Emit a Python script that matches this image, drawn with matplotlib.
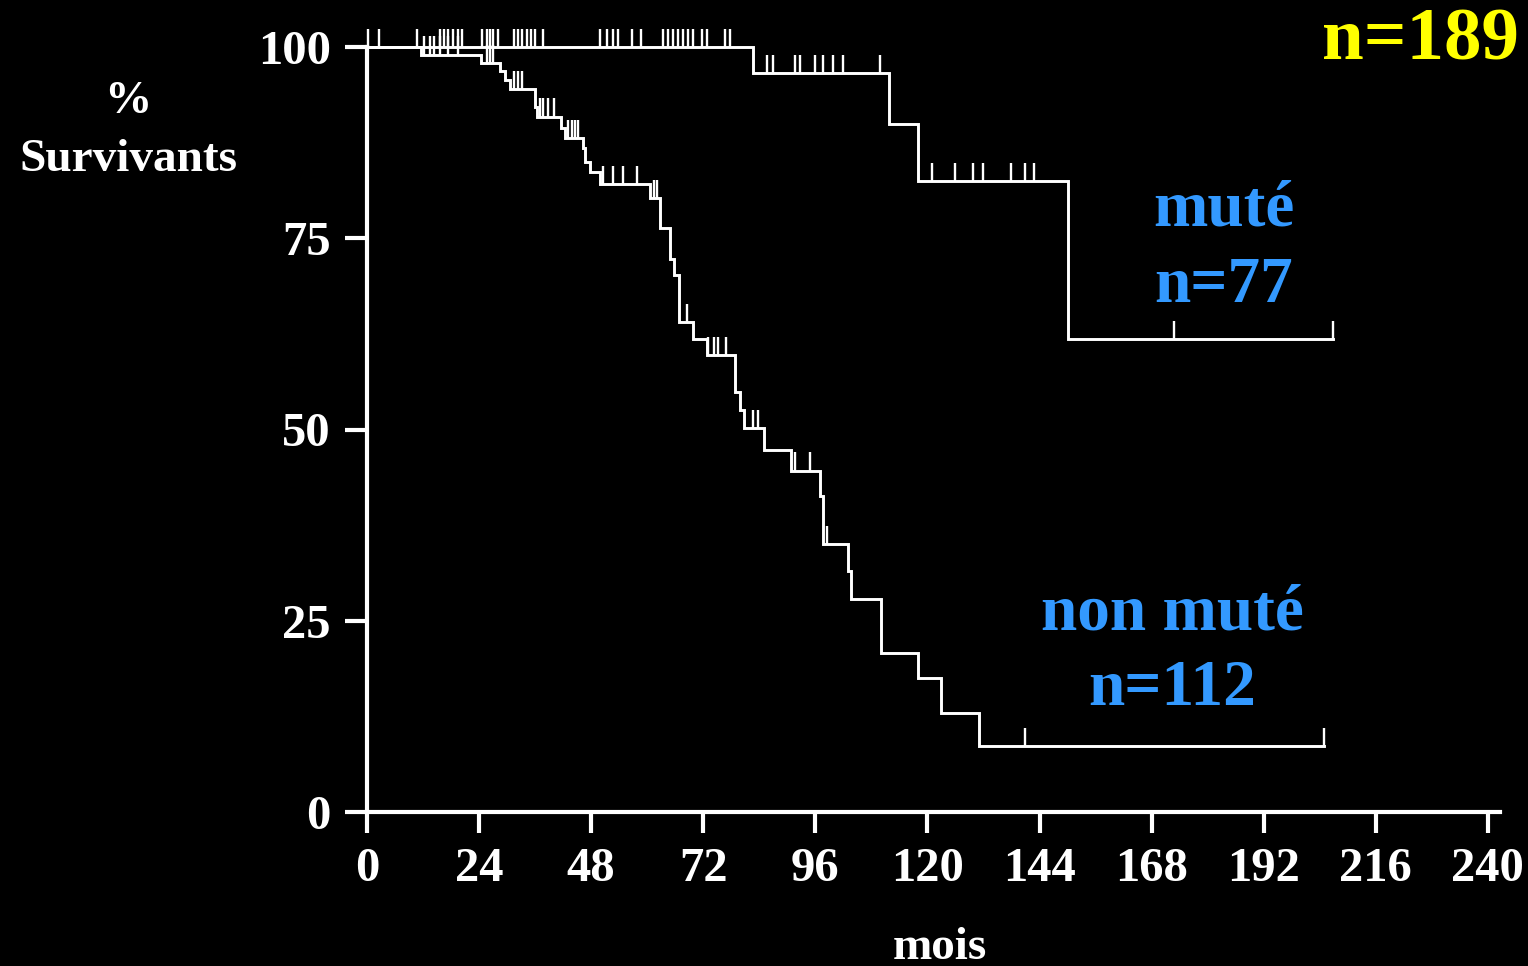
import numpy as np
import matplotlib
matplotlib.use("Agg")
import matplotlib.pyplot as plt

plt.rcParams['font.family'] = ['Liberation Serif', 'DejaVu Serif']
plt.rcParams['font.weight'] = 'bold'

# muté (n=77): event times (months) and survival (%) after each event
mut_times = [0, 82.7, 111.8, 117.9, 150.1]
mut_surv = [100, 96.6, 90.0, 82.5, 61.8]
mut_end = 206.8
mut_censor = [0.3, 2.6, 10.7, 15.6, 16.5, 17.3, 18.4, 19.5, 20.3, 24.6, 25.7,
              26.3, 27.0, 28.0, 31.5, 32.3, 33.2, 34.3, 35.1, 36.0, 37.7,
              49.9, 51.4, 52.7, 53.7, 56.7, 58.7, 63.4, 64.5, 65.5, 66.6,
              67.7, 68.7, 69.8, 71.7, 72.8, 76.7, 77.7,
              85.7, 86.9, 91.6, 92.7, 95.9, 97.7, 99.8, 101.9, 109.9,
              120.9, 125.9, 129.8, 131.8, 137.8, 140.9, 142.8, 172.8, 206.8]

# non muté (n=112)
non_times = [0, 11.5, 24.5, 28.5, 29.5, 30.6, 36.0, 36.5, 41.5, 42.5, 46.2,
             46.7, 47.7, 49.9, 60.6, 62.7, 64.9, 65.8, 66.7, 69.7, 72.7,
             78.7, 79.9, 80.8, 84.9, 90.8, 96.9, 97.7, 102.9, 103.6, 110.0,
             117.9, 122.8, 131.0]
non_surv = [100, 99.0, 97.9, 96.8, 95.7, 94.5, 92.1, 90.9, 89.4, 88.1, 86.8,
            85.0, 83.7, 82.1, 80.2, 76.3, 72.3, 70.2, 64.0, 61.8, 59.7,
            54.9, 52.5, 50.2, 47.3, 44.6, 41.3, 35.0, 31.5, 27.9, 20.8,
            17.5, 13.0, 8.6]
non_end = 204.9
non_censor = [12.2, 13.4, 14.4, 15.6, 17.3, 19.5, 25.7, 26.3, 27.0,
              31.5, 32.3, 33.2, 37.0, 37.7, 38.8, 40.0, 43.0, 43.9, 44.5, 45.2,
              50.5, 52.7, 54.8, 57.8, 61.4, 62.0, 68.6, 73.1, 74.2, 75.2, 76.8,
              82.7, 83.8, 91.6, 94.9, 98.6, 140.9, 204.9]

xticks = list(range(0, 241, 24))
yticks = [0, 25, 50, 75, 100]

W, H = 1528, 966
fig = plt.figure(figsize=(W / 100, H / 100), dpi=100, facecolor='black')
ax = fig.add_axes([367 / W, 154 / H, 1133 / W, 765 / H], facecolor='black')
ax.set_xlim(0, 242.6)
ax.set_ylim(0, 100)


def surv_at(times, surv, t):
    i = np.searchsorted(times, t, side='right') - 1
    return surv[i]


def draw_curve(times, surv, end, censor):
    xs = list(times) + [end]
    ys = list(surv) + [surv[-1]]
    ax.step(xs, ys, where='post', color='white', lw=2.1, clip_on=False,
            solid_joinstyle='miter')
    cy = [surv_at(times, surv, c) for c in censor]
    ax.vlines(censor, cy, np.array(cy) + 2.4, color='white', lw=1.7,
              clip_on=False)


draw_curve(mut_times, mut_surv, mut_end, mut_censor)
draw_curve(non_times, non_surv, non_end, non_censor)

for s in ['top', 'right']:
    ax.spines[s].set_visible(False)
for s in ['left', 'bottom']:
    ax.spines[s].set_color('white')
    ax.spines[s].set_linewidth(3)

ax.set_xticks(xticks)
ax.set_yticks(yticks)
ax.tick_params(axis='x', direction='out', length=15, width=3, colors='white',
               labelsize=35, pad=10)
ax.tick_params(axis='y', direction='out', length=16, width=3, colors='white',
               labelsize=35, pad=10)
for lab in ax.get_xticklabels() + ax.get_yticklabels():
    lab.set_fontweight('bold')

blue = '#3399ff'


def ftext(x, y, s, **kw):
    fig.text(x / W, 1 - y / H, s, ha='center', va='center', fontweight='bold', **kw)


ftext(128, 102, '%', color='white', fontsize=34)
ftext(128, 160, 'Survivants', color='white', fontsize=34)
ftext(940, 948, 'mois', color='white', fontsize=34)
ftext(1421, 42, 'n=189', color='#ffff00', fontsize=54)
ftext(1224, 210, 'muté', color=blue, fontsize=47)
ftext(1224, 286, 'n=77', color=blue, fontsize=47)
ftext(1172, 613, 'non muté', color=blue, fontsize=47)
ftext(1172, 689, 'n=112', color=blue, fontsize=47)

fig.savefig('out.png', dpi=100, facecolor='black')
